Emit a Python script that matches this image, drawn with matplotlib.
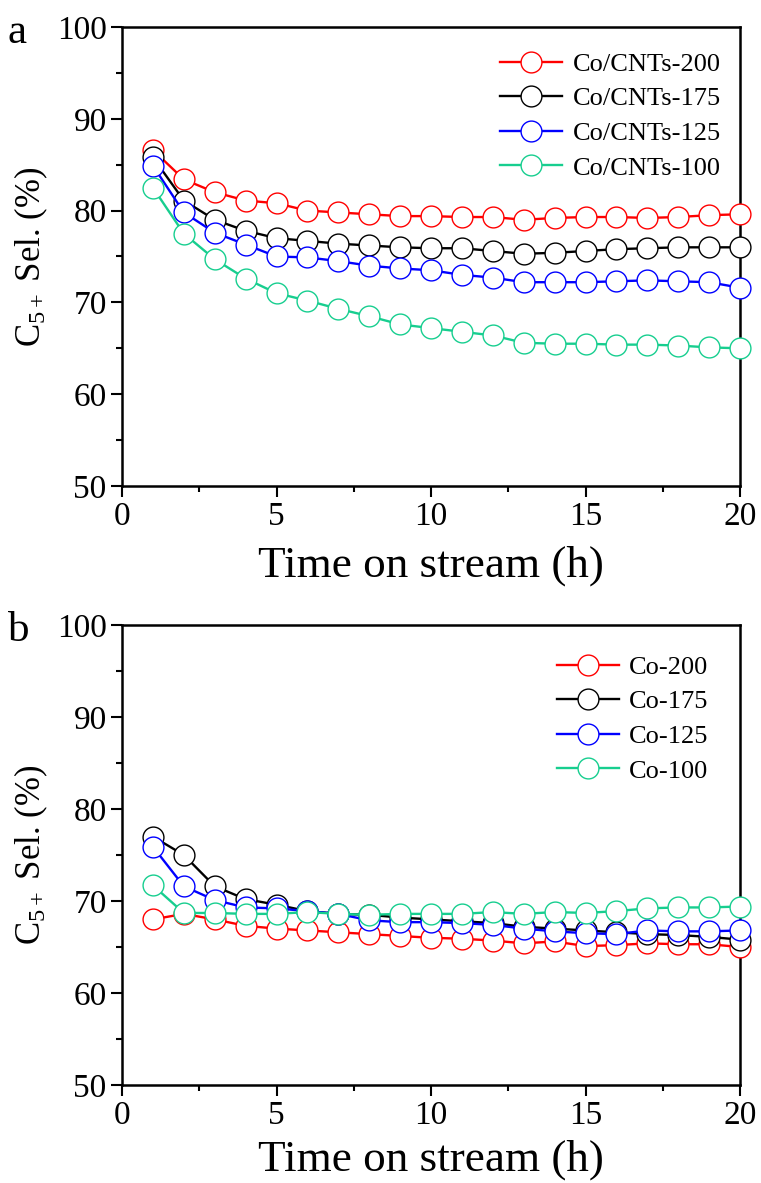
import matplotlib
matplotlib.use("Agg")
import matplotlib.pyplot as plt
from matplotlib.ticker import MultipleLocator

plt.rcParams['font.family'] = ['Liberation Serif', 'DejaVu Serif']
plt.rcParams['mathtext.fontset'] = 'custom'
plt.rcParams['mathtext.rm'] = 'Liberation Serif'
plt.rcParams['mathtext.it'] = 'Liberation Serif:italic'

time_h = list(range(1, 21))

# Panel a
cnt200 = [86.6, 83.4, 82.0, 81.1, 80.8, 80.0, 79.8, 79.6, 79.4, 79.4, 79.3, 79.3, 79.0, 79.2, 79.3, 79.3, 79.2, 79.3, 79.5, 79.6]
cnt175 = [85.8, 81.1, 79.0, 77.8, 77.0, 76.7, 76.4, 76.2, 76.0, 75.9, 75.9, 75.6, 75.3, 75.4, 75.6, 75.8, 75.9, 76.0, 76.0, 76.0]
cnt125 = [84.9, 79.8, 77.6, 76.3, 75.0, 74.9, 74.5, 74.0, 73.7, 73.5, 73.0, 72.7, 72.2, 72.2, 72.2, 72.3, 72.4, 72.3, 72.2, 71.6]
cnt100 = [82.5, 77.5, 74.7, 72.6, 71.0, 70.2, 69.3, 68.5, 67.6, 67.2, 66.8, 66.4, 65.6, 65.5, 65.5, 65.4, 65.4, 65.3, 65.1, 65.0]
labels_a = ['Co/CNTs-200', 'Co/CNTs-175', 'Co/CNTs-125', 'Co/CNTs-100']

# Panel b
co200 = [68.0, 68.6, 68.0, 67.3, 67.0, 66.8, 66.6, 66.4, 66.2, 66.0, 65.9, 65.7, 65.4, 65.6, 65.1, 65.2, 65.4, 65.3, 65.3, 65.0]
co175 = [77.0, 75.0, 71.6, 70.2, 69.6, 68.9, 68.6, 68.5, 68.2, 68.0, 67.8, 67.6, 67.2, 67.0, 66.8, 66.6, 66.4, 66.3, 66.1, 65.8]
co125 = [75.9, 71.6, 70.1, 69.3, 69.2, 68.9, 68.6, 67.9, 67.7, 67.7, 67.6, 67.4, 67.0, 66.7, 66.5, 66.4, 66.8, 66.7, 66.7, 66.8]
co100 = [71.7, 68.7, 68.7, 68.6, 68.6, 68.8, 68.6, 68.5, 68.6, 68.6, 68.6, 68.8, 68.6, 68.8, 68.7, 68.9, 69.2, 69.3, 69.3, 69.4]
labels_b = ['Co-200', 'Co-175', 'Co-125', 'Co-100']

colors = ['#FF0000', '#000000', '#0000FF', '#17CE8F']

fig = plt.figure(figsize=(7.61, 11.83), dpi=100)
ax_a = fig.add_axes([122/761, 1-486/1183, 618/761, 459/1183])
ax_b = fig.add_axes([122/761, 1-1085/1183, 618/761, 460/1183])

def draw(ax, series, labels, letter, leg_anchor, xpad):
    for ys, lab, c in zip(series, labels, colors):
        ax.plot(time_h, ys, '-o', color=c, lw=1.7, markersize=15, markerfacecolor='white',
                markeredgecolor=c, markeredgewidth=1.0, label=lab, clip_on=False, zorder=3)
    ax.set_xlim(0, 20)
    ax.set_ylim(50, 100)
    ax.xaxis.set_major_locator(MultipleLocator(5))
    ax.xaxis.set_minor_locator(MultipleLocator(2.5))
    ax.yaxis.set_major_locator(MultipleLocator(10))
    ax.yaxis.set_minor_locator(MultipleLocator(5))
    ax.tick_params(which='both', direction='out', top=False, right=False, labelsize=24, width=1.5)
    ax.tick_params(which='major', length=8, pad=3)
    ax.tick_params(which='minor', length=4)
    for s in ax.spines.values():
        s.set_linewidth(1.8)
    ax.set_xlabel('Time on stream (h)', fontsize=32.5, labelpad=xpad)
    ax.set_ylabel('C$_{5+}$ Sel. (%)', fontsize=25, labelpad=5)
    ax.legend(loc='upper right', bbox_to_anchor=leg_anchor, frameon=False, fontsize=19,
              handlelength=2.35, labelspacing=0.42, borderaxespad=0.45, handletextpad=0.4)
    ax.text(-0.185, 1 - 6/460, letter, transform=ax.transAxes, fontsize=31, ha='left', va='center')

draw(ax_a, [cnt200, cnt175, cnt125, cnt100], labels_a, 'a', (1 + 3/618, 1 - 3/459), 10)
draw(ax_b, [co200, co175, co125, co100], labels_b, 'b', (1 - 9/618, 1 - 8/460), 6)

fig.savefig('out.png', dpi=100)
